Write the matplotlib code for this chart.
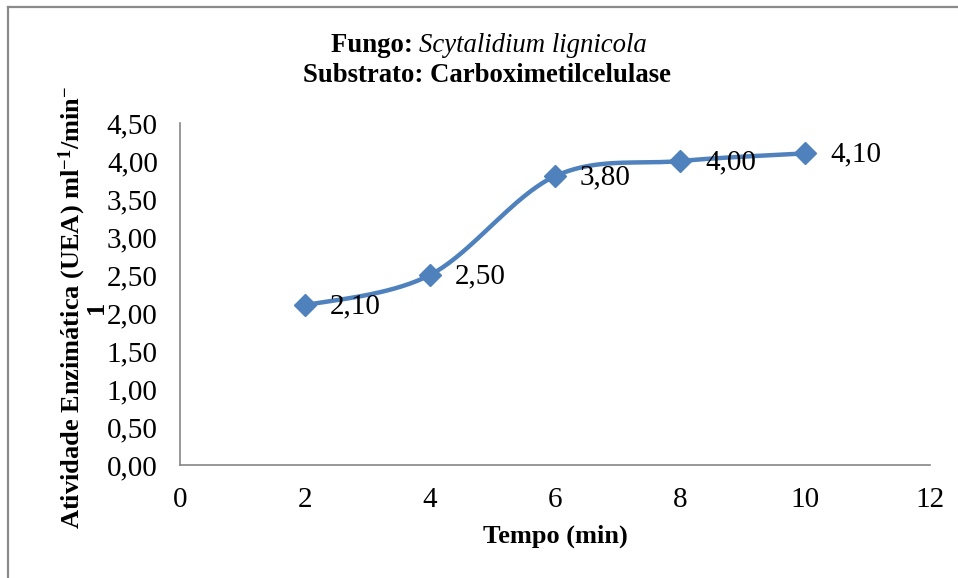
import numpy as np
import matplotlib
matplotlib.use("Agg")
import matplotlib.pyplot as plt
from matplotlib.lines import Line2D

plt.rcParams['font.family'] = ['Liberation Serif', 'DejaVu Serif']
plt.rcParams['mathtext.fontset'] = 'custom'
plt.rcParams['mathtext.rm'] = 'Liberation Serif:bold'
plt.rcParams['mathtext.bf'] = 'Liberation Serif:bold'
plt.rcParams['mathtext.it'] = 'Liberation Serif:bold'

# Data
tempo = [2, 4, 6, 8, 10]
atividade = [2.10, 2.50, 3.80, 4.00, 4.10]
rotulos = ["2,10", "2,50", "3,80", "4,00", "4,10"]
xticks = [0, 2, 4, 6, 8, 10, 12]
yticks = [0.0, 0.5, 1.0, 1.5, 2.0, 2.5, 3.0, 3.5, 4.0, 4.5]
ytick_labels = ["0,00", "0,50", "1,00", "1,50", "2,00", "2,50", "3,00", "3,50", "4,00", "4,50"]

W, H = 958, 578
fig = plt.figure(figsize=(W / 100, H / 100), dpi=100)
ax = fig.add_axes([180 / W, 1 - 465 / H, 750 / W, 342 / H])
ax.set_xlim(0, 12)
ax.set_ylim(0, 4.5)

blue = "#4F81BD"

# Excel-like smoothed line (Bezier in display space)
fig.canvas.draw()
pts = ax.transData.transform(np.column_stack([tempo, atividade]))
n = len(pts)
curve = []
for i in range(n - 1):
    p0 = pts[i - 1] if i > 0 else pts[i]
    p1 = pts[i]
    p2 = pts[i + 1]
    p3 = pts[i + 2] if i + 2 < n else pts[i + 1]
    c1 = p1 + (p2 - p0) / 6.0
    c2 = p2 - (p3 - p1) / 6.0
    t = np.linspace(0, 1, 40)[:, None]
    seg = ((1 - t) ** 3) * p1 + 3 * ((1 - t) ** 2) * t * c1 + 3 * (1 - t) * t ** 2 * c2 + t ** 3 * p2
    curve.append(seg if i == 0 else seg[1:])
curve = np.vstack(curve)
curve_data = ax.transData.inverted().transform(curve)
ax.plot(curve_data[:, 0], curve_data[:, 1], color=blue, lw=3.2, solid_capstyle='round', zorder=2)
ax.plot(tempo, atividade, linestyle='none', marker='D', markersize=11.5, color=blue, zorder=3)

for x, y, s in zip(tempo, atividade, rotulos):
    ax.annotate(s, (x, y), xytext=(18, -1), textcoords='offset points',
                ha='left', va='center', fontsize=21, color='black', zorder=4)

ax.set_xticks(xticks)
ax.set_xticklabels([str(v) for v in xticks], fontsize=21)
ax.set_yticks(yticks)
ax.set_yticklabels(ytick_labels, fontsize=21)
ax.tick_params(axis='both', length=0)
ax.tick_params(axis='x', pad=16)
ax.tick_params(axis='y', pad=16)
for s in ['top', 'right']:
    ax.spines[s].set_visible(False)
for s in ['left', 'bottom']:
    ax.spines[s].set_color('#868686')
    ax.spines[s].set_linewidth(1.2)

fig.text(555 / W, 1 - 536 / H, "Tempo (min)", ha='center', va='center', fontsize=19, fontweight='bold')

# Y label (wrapped like the reference, as one two-line text)
fig.text(82 / W, 1 - 307 / H, "Atividade Enzimática (UEA) ml$^{-1}$/min$^{-}$\n1",
         rotation=90, ha='center', va='center', multialignment='center',
         linespacing=0.85, fontsize=19, fontweight='bold')

# Title with mixed bold/italic
renderer = fig.canvas.get_renderer()
t1a = fig.text(0, 1 - 45 / H, "Fungo: ", fontsize=19.3, fontweight='bold', va='center', ha='left')
t1b = fig.text(0, 1 - 45 / H, "Scytalidium lignicola", fontsize=19.3, fontstyle='italic', va='center', ha='left')
wa = t1a.get_window_extent(renderer).width
wb = t1b.get_window_extent(renderer).width
cx = 489
start = cx - (wa + wb) / 2
t1a.set_x(start / W)
t1b.set_x((start + wa) / W)
fig.text(487 / W, 1 - 76 / H, "Substrato: Carboximetilcelulase", fontsize=19.3, fontweight='bold',
         ha='center', va='center')

# Chart area border (only top and left visible in crop)
fig.add_artist(Line2D([8 / W, 8 / W], [0, 1 - 7 / H], color='#8a8a8a', lw=1.6, transform=fig.transFigure))
fig.add_artist(Line2D([8 / W, 1], [1 - 7 / H, 1 - 7 / H], color='#8a8a8a', lw=1.6, transform=fig.transFigure))

fig.savefig("out.png", dpi=100)
